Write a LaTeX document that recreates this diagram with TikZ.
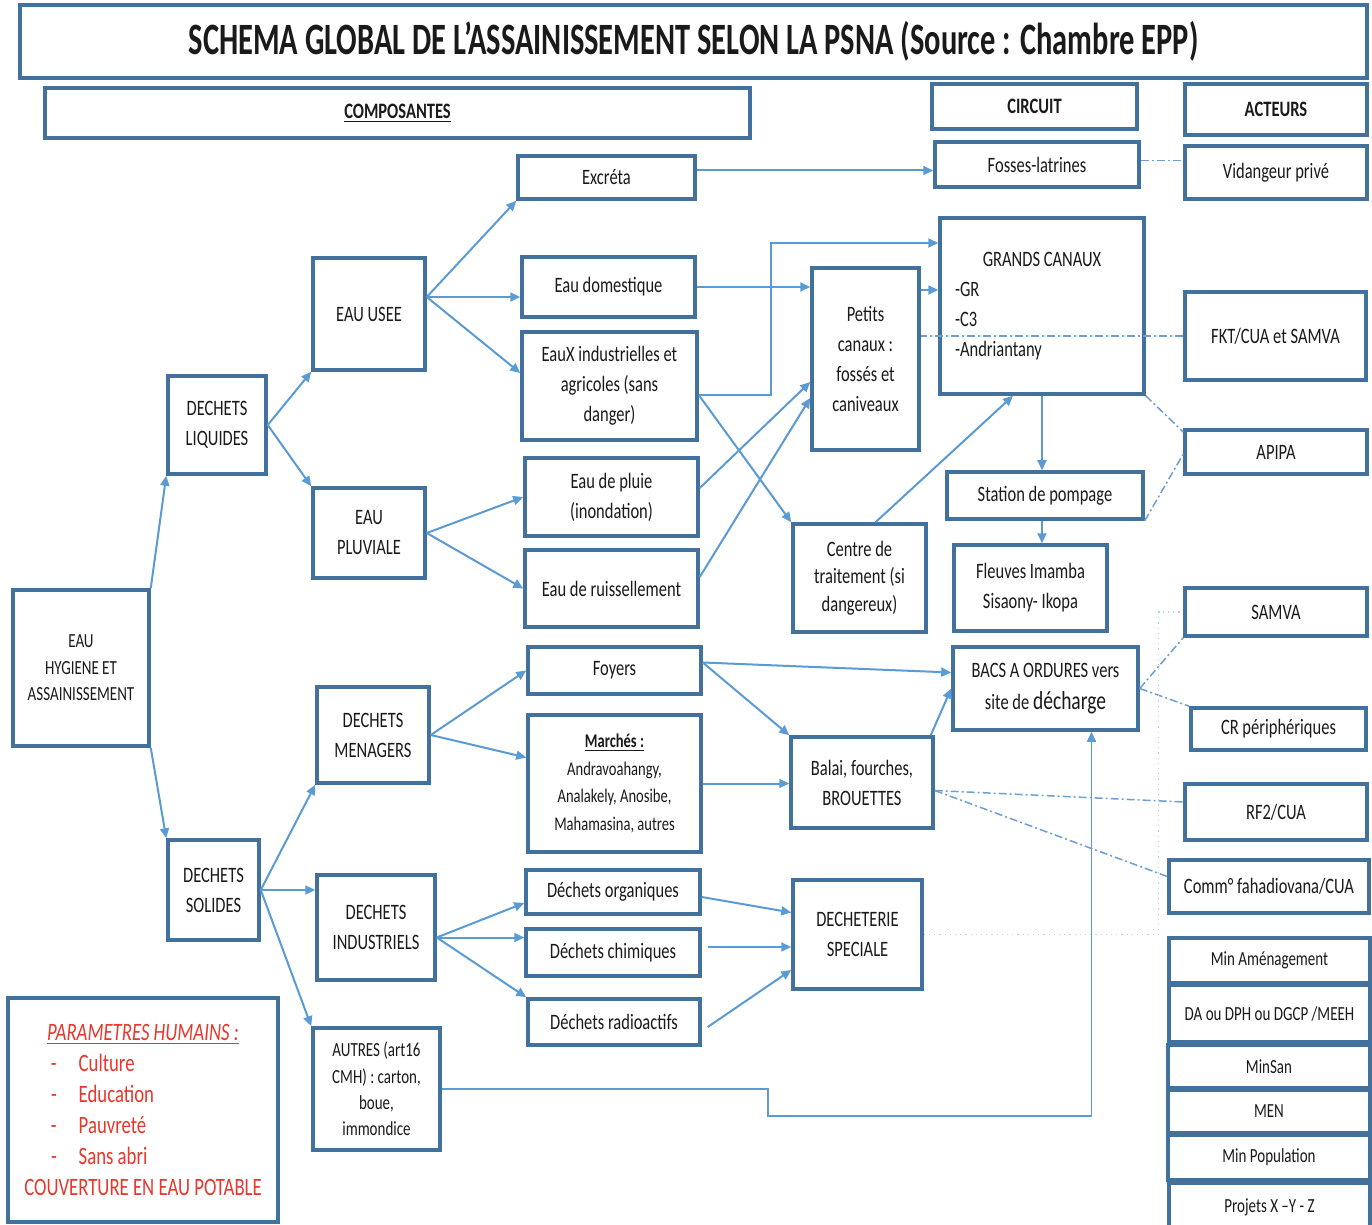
\documentclass[tikz,border=0pt]{standalone}
\usepackage{fontspec}
\setmainfont[FakeStretch=0.75]{Carlito}
\newfontfamily\titrefont[FakeStretch=0.68]{Carlito}
\usetikzlibrary{arrows.meta,calc}
\definecolor{bordure}{HTML}{41719C}
\definecolor{trait}{HTML}{5B9BD5}
\definecolor{traitclair}{HTML}{6E9FD3}
\definecolor{rouge}{HTML}{E8372C}
\definecolor{encre}{HTML}{1A1A1A}
\newcommand{\txt}{\fontsize{11}{15}\selectfont}
\newcommand{\moyen}{\fontsize{10}{13.2}\selectfont}
\newcommand{\petit}{\fontsize{9.7}{13.8}\selectfont}
\newcommand{\titre}{\titrefont\bfseries\fontsize{22.4}{26}\selectfont}
\newcommand{\rougetxt}{\fontsize{12.5}{15.5}\selectfont}
\tikzset{boite/.style={draw=bordure,line width=1.75pt,inner sep=0pt,align=center,text=encre,font=\txt},
  coins/.code args={#1/#2/#3/#4}{%
    \pgfmathsetmacro\cx{(#1+#3)/2}\pgfmathsetmacro\cy{(#2+#4)/2}%
    \pgfmathsetmacro\lw{(#3-#1)/2}\pgfmathsetmacro\lh{(#4-#2)/2}%
    \edef\tmp{\noexpand\pgfkeysalso{at={(\cx,\cy)},minimum width=\lw pt,minimum height=\lh pt}}\tmp},
  fleche/.style={trait,line width=1pt,-{Triangle[length=5pt,width=4.5pt]}},
  lienacteur/.style={traitclair,line width=0.75pt,dash pattern=on 4pt off 1.5pt on 1pt off 1.5pt},
  lienfin/.style={trait!45,line width=0.6pt,dotted}}

\begin{document}
\begin{tikzpicture}[x=0.5pt,y=-0.5pt]
\useasboundingbox (0,0) rectangle (1372,1225);
\fill[white] (0,0) rectangle (1372,1225);
\node[boite,coins=20/5/1367/78,font=\titre] (titre) {SCHEMA GLOBAL DE L’ASSAINISSEMENT SELON LA PSNA (Source : Chambre EPP)};
\node[boite,coins=45/88/750/138,font=\txt\bfseries] (compo) {\underline{COMPOSANTES}};
\node[boite,coins=932/84/1137/129,font=\txt\bfseries] (circuit) {CIRCUIT};
\node[boite,coins=1185/84/1367/135,font=\txt\bfseries] (acteurs) {ACTEURS};

\node[boite,coins=13/590/149/746,font=\moyen] (eah) {EAU\\HYGIENE ET\\ASSAINISSEMENT};
\node[boite,coins=168/376/266/474] (dliq) {DECHETS\\LIQUIDES};
\node[boite,coins=168/840/259/940] (dsol) {DECHETS\\SOLIDES};
\node[boite,coins=313/258/425/370] (eauusee) {EAU USEE};
\node[boite,coins=313/488/425/578] (eaupluv) {EAU\\PLUVIALE};
\node[boite,coins=317/687/429/783] (dmen) {DECHETS\\MENAGERS};
\node[boite,coins=317/875/435/980] (dind) {DECHETS\\INDUSTRIELS};
\node[boite,coins=313/1028/440/1150,font=\moyen] (autres) {AUTRES (art16\\CMH) : carton,\\boue,\\immondice};
\node[boite,coins=8/998/278/1222,text=rouge,font=\rougetxt] (param) {\underline{\itshape PARAMETRES HUMAINS :}\\
  \makebox[92pt][l]{-\hspace{11pt}Culture}\\\makebox[92pt][l]{-\hspace{11pt}Education}\\
  \makebox[92pt][l]{-\hspace{11pt}Pauvreté}\\\makebox[92pt][l]{-\hspace{11pt}Sans abri}\\COUVERTURE EN EAU POTABLE};

\node[boite,coins=518/156/695/199] (excreta) {Excréta};
\node[boite,coins=522/257/695/317] (eaudom) {Eau domestique};
\node[boite,coins=522/332/697/440] (eaux) {EauX industrielles et\\agricoles (sans\\danger)};
\node[boite,coins=525/458/698/536] (pluie) {Eau de pluie\\(inondation)};
\node[boite,coins=525/550/698/627] (ruiss) {Eau de ruissellement};
\node[boite,coins=528/647/701/694] (foyers) {Foyers};
\node[boite,coins=528/715/701/852,font=\petit] (marches) {\textbf{\underline{Marchés :}}\\Andravoahangy,\\Analakely, Anosibe,\\Mahamasina, autres};
\node[boite,coins=526/870/700/914] (dorg) {Déchets organiques};
\node[boite,coins=526/929/700/976] (dchim) {Déchets chimiques};
\node[boite,coins=528/999/700/1045] (drad) {Déchets radioactifs};

\node[boite,coins=812/268/919/450] (petits) {Petits\\canaux :\\fossés et\\caniveaux};
\node[boite,coins=793/524/926/632,font=\fontsize{11}{13.8}\selectfont] (centre) {Centre de\\traitement (si\\dangereux)};
\node[boite,coins=791/737/933/828] (balai) {Balai, fourches,\\BROUETTES};
\node[boite,coins=793/880/922/989] (decheterie) {DECHETERIE\\SPECIALE};

\node[boite,coins=935/142/1139/187] (fosses) {Fosses-latrines};
\node[boite,coins=940/218/1144/394,align=left] (grands) {\makebox[87pt]{GRANDS CANAUX}\\-GR\\-C3\\-Andriantany};
\node[boite,coins=947/472/1143/519] (station) {Station de pompage};
\node[boite,coins=954/545/1107/631] (fleuves) {Fleuves Imamba\\Sisaony- Ikopa};
\node[boite,coins=953/647/1138/730,font=\fontsize{11}{16}\selectfont] (bacs) {BACS A ORDURES vers\\site de {\fontsize{13}{16}\selectfont décharge}};

\node[boite,coins=1185/146/1367/199] (vidangeur) {Vidangeur privé};
\node[boite,coins=1185/292/1366/380] (fkt) {FKT/CUA et SAMVA};
\node[boite,coins=1185/430/1367/474] (apipa) {APIPA};
\node[boite,coins=1185/588/1367/636] (samva) {SAMVA};
\node[boite,coins=1191/708/1366/750] (cr) {CR périphériques};
\node[boite,coins=1185/784/1367/840] (rf2) {RF2/CUA};
\node[boite,coins=1169/860/1369/913] (comm) {Comm° fahadiovana/CUA};
\node[boite,coins=1169/938/1370/983,font=\moyen] (minam) {Min Aménagement};
\node[boite,coins=1169/985/1370/1042,font=\moyen] (dadph) {DA ou DPH ou DGCP /MEEH};
\node[boite,coins=1168/1045/1370/1088,font=\moyen] (minsan) {MinSan};
\node[boite,coins=1168/1090/1370/1133,font=\moyen] (men) {MEN};
\node[boite,coins=1168/1135/1370/1180,font=\moyen] (minpop) {Min Population};
\node[boite,coins=1169/1183/1370/1232,font=\moyen] (projets) {Projets X –Y - Z};

\draw[fleche] (eah.north east) -- (dliq.south west);
\draw[fleche] (eah.south east) -- (dsol.north west);
\draw[fleche] (dliq.east) -- (eauusee.south west);
\draw[fleche] (dliq.east) -- (eaupluv.north west);
\coordinate (eu-o) at ([yshift=8.5pt]eauusee.east);
\draw[fleche] (eu-o) -- (excreta.south west);
\draw[fleche] (eu-o) -- (eaudom.west |- eu-o);
\draw[fleche] (eu-o) -- ([yshift=6.5pt]eaux.west);
\draw[fleche] (eaupluv.east) -- (pluie.west);
\draw[fleche] (eaupluv.east) -- (ruiss.west);
\coordinate (xc-o) at ([yshift=3.5pt]excreta.east);
\draw[fleche] (xc-o) -- (fosses.west |- xc-o);
\draw[fleche] (eaudom.east) -- (petits.west |- eaudom.east);
\coordinate (ex-o) at ([yshift=-4.5pt]eaux.east);
\draw[fleche] (ex-o) -- ++(72,0) |- ([yshift=31.5pt]grands.west);
\draw[fleche] (ex-o) -- (centre.north west);
\draw[fleche] ([yshift=4.5pt]pluie.east) -- ([yshift=-11.5pt]petits.west);
\draw[fleche] ([yshift=5.75pt]ruiss.east) -- ([yshift=-19.5pt]petits.west);
\coordinate (pc-o) at ([yshift=34.5pt]petits.east);
\draw[fleche] (pc-o) -- (grands.west |- pc-o);
\draw[fleche] ([xshift=8pt]centre.north) -- ([xshift=-14.5pt]grands.south);
\draw[fleche] (grands.south) -- (grands.south |- station.north);
\draw[fleche] (grands.south |- station.south) -- (grands.south |- fleuves.north);

\draw[fleche] (dsol.east) -- (dmen.south west);
\draw[fleche] (dsol.east) -- (dind.west |- dsol.east);
\draw[fleche] (dsol.east) -- (autres.north west);
\draw[fleche] (dmen.east) -- (foyers.west);
\draw[fleche] (dmen.east) -- ([yshift=13pt]marches.west);
\coordinate (fo-o) at ([yshift=4pt]foyers.east);
\draw[fleche] (fo-o) -- ([yshift=8pt]bacs.west);
\draw[fleche] (fo-o) -- (balai.north west);
\draw[fleche] (marches.east) -- (balai.west |- marches.east);
\draw[fleche] ([xshift=-2pt]balai.north east) -- (bacs.west);
\coordinate (di-o) at ([yshift=-5pt]dind.east);
\draw[fleche] (di-o) -- ([yshift=-5.5pt]dorg.west);
\draw[fleche] (di-o) -- (dchim.west |- di-o);
\draw[fleche] (di-o) -- (drad.north west);
\draw[fleche] ([yshift=-2.5pt]dorg.east) -- ([yshift=11pt]decheterie.west);
\coordinate (dc-o) at ([xshift=3pt,yshift=2.75pt]dchim.east);
\draw[fleche] (dc-o) -- (decheterie.west |- dc-o);
\draw[fleche] ([xshift=3pt,yshift=-2.5pt]drad.east) -- ([yshift=-17.75pt]decheterie.west);
\draw[fleche,line width=0.8pt] (autres.east) -- ++(326,0) -- ++(0,27) -| ([xshift=23pt]bacs.south);

\coordinate (fl-o) at ([yshift=2pt]fosses.east);
\draw[lienacteur] (fl-o) -- (vidangeur.west |- fl-o);
\draw[lienacteur] (fkt.west) -- (petits.east |- fkt.west);
\draw[lienacteur] (grands.south east) -- ([yshift=10pt]apipa.west);
\draw[lienacteur] (station.south east) -- ([yshift=-1pt]apipa.west);
\draw[lienacteur] (bacs.east) -- (samva.south west);
\draw[lienacteur] (bacs.east) -- (cr.north west);
\coordinate (ba-o) at ([yshift=-4pt]balai.east);
\draw[lienacteur] (ba-o) -- ([yshift=5pt]rf2.west);
\draw[lienacteur] (ba-o) -- ([yshift=5pt]comm.west);
\draw[lienfin] (decheterie.east) -- ++(235,0) |- (samva.west);
\end{tikzpicture}
\end{document}
